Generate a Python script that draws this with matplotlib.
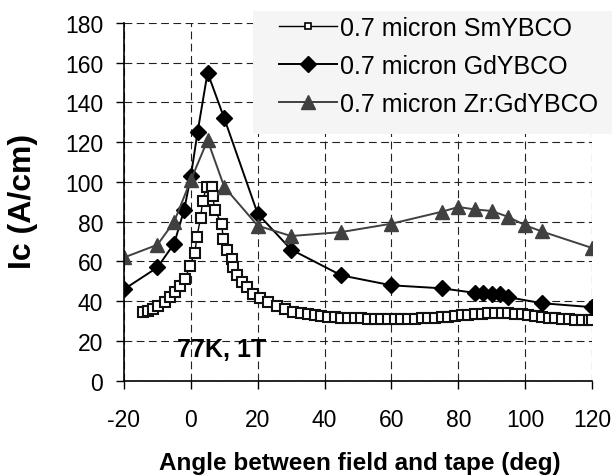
import numpy as np
import matplotlib
matplotlib.use('Agg')
import matplotlib.pyplot as plt
from matplotlib.patches import Rectangle
from matplotlib.lines import Line2D

plt.rcParams['font.family'] = ['Liberation Sans', 'DejaVu Sans']
plt.rcParams['axes.unicode_minus'] = False

# ---- data ----
# 0.7 micron SmYBCO (open squares)
sm_angle = [-14.2, -12.7, -11.2, -9.7, -7.7, -6.2, -4.7, -3.2, -1.7, -0.3,
            1.2, 1.8, 2.9, 3.5, 4.7, 6.2, 6.5, 7.2, 9.2, 9.7,
            10.7, 12.2, 12.7, 13.7, 15.2, 16.7, 18.7, 20.7, 23.2, 25.7,
            28.2, 30.7, 33, 35, 37, 39, 41, 43, 45, 47,
            49, 51, 53, 55, 57, 59, 61, 63, 65, 67,
            69, 71, 73, 75, 77, 79, 81, 83, 85, 87,
            89, 91, 93, 95, 97, 99, 101, 103, 105, 107,
            109, 111, 113, 115, 117, 119, 120]
sm_ic = [34.5, 35.3, 36.2, 37.5, 39.5, 42.0, 44.6, 47.6, 51.3, 57.7,
         64.4, 72.3, 81.9, 90.3, 97.5, 97.5, 93.0, 85.7, 79.0, 71.5,
         65.6, 61.4, 57.2, 53.0, 49.6, 47.1, 43.7, 41.6, 39.5, 37.8,
         36.2, 34.8, 34.0, 33.5, 33.0, 32.6, 32.3, 32.0, 31.8, 31.6,
         31.4, 31.3, 31.2, 31.0, 30.9, 30.8, 30.8, 30.9, 31.0, 31.2,
         31.4, 31.6, 31.8, 32.0, 32.3, 32.6, 32.9, 33.2, 33.5, 33.7,
         33.9, 34.0, 34.0, 33.9, 33.7, 33.4, 33.0, 32.6, 32.2, 31.8,
         31.4, 31.1, 30.8, 30.6, 30.5, 30.4, 30.4]

# 0.7 micron GdYBCO (filled diamonds)
gd_angle = [-20, -10, -5, -2, 0, 2, 5, 10, 20, 30, 45, 60, 75,
            85, 87.5, 90, 92.5, 95, 105, 120]
gd_ic = [46, 57, 69, 86, 103, 125, 155, 132, 84, 66, 53, 48, 46.5,
         44.2, 44.2, 43.4, 43.4, 42, 39, 37]

# 0.7 micron Zr:GdYBCO (filled triangles)
zr_angle = [-20, -10, -5, 0, 5, 10, 20, 30, 45, 60, 75, 80, 85, 90,
            95, 100, 105, 120]
zr_ic = [62, 68.4, 80, 101, 121, 97.5, 78, 72.8, 74.8, 79, 85, 87.4,
         86.2, 85.4, 82.4, 78.2, 75.1, 66.8]

labels = ['0.7 micron SmYBCO', '0.7 micron GdYBCO', '0.7 micron Zr:GdYBCO']
xticks = [-20, 0, 20, 40, 60, 80, 100, 120]
yticks = [0, 20, 40, 60, 80, 100, 120, 140, 160, 180]

# ---- figure ----
W, H = 616, 477
fig = plt.figure(figsize=(W / 100, H / 100), dpi=100)
ax = fig.add_axes([124 / W, 1 - 381.7 / H, 468 / W, 357.7 / H])

ax.plot(sm_angle, sm_ic, '-', color='black', lw=1.0, marker='s', ms=7,
        mfc='white', mec='#111111', mew=1.5, zorder=3)
ax.plot(gd_angle, gd_ic, '-', color='black', lw=1.4, marker='D', ms=8,
        mfc='black', mec='black', zorder=4)
ax.plot(zr_angle, zr_ic, '-', color='#404040', lw=1.4, marker='^', ms=10,
        mfc='#404040', mec='#404040', zorder=5)

ax.set_xlim(-20, 120)
ax.set_ylim(0, 180)
ax.set_xticks(xticks)
ax.set_yticks(yticks)
ax.tick_params(direction='out', length=6, width=1, labelsize=16.5,
               colors='black')
ax.tick_params(axis='x', pad=14)
ax.tick_params(axis='y', pad=9)

ax.grid(True, color='#222222', lw=0.8, linestyle=(0, (7, 4)))
ax.set_axisbelow(True)
for s in ['top', 'right']:
    ax.spines[s].set_visible(False)
for s in ['left', 'bottom']:
    ax.spines[s].set_linewidth(1.2)
    ax.spines[s].set_zorder(6)

ax.text(9.3, 16, '77K, 1T', fontsize=18, fontweight='bold',
        ha='center', va='center')

fig.text(23 / W, 1 - 201 / H, 'Ic (A/cm)', rotation=90, fontsize=23,
         fontweight='bold', ha='center', va='center')
fig.text(360 / W, 1 - 464 / H, 'Angle between field and tape (deg)',
         fontsize=17.5, fontweight='bold', ha='center', va='center')

# legend on a light grey panel
fig.patches.append(Rectangle((253 / W, 1 - 135 / H), (612 - 253) / W,
                             (135 - 12) / H, transform=fig.transFigure,
                             facecolor='#f5f5f5', edgecolor='none',
                             zorder=2))
handles = [
    Line2D([], [], color='black', lw=1.0, marker='s', ms=5,
           mfc='white', mec='black', mew=1.2),
    Line2D([], [], color='black', lw=1.4, marker='D', ms=8,
           mfc='black', mec='black'),
    Line2D([], [], color='#404040', lw=1.4, marker='^', ms=10,
           mfc='#404040', mec='#404040'),
]
fig.legend(handles, labels, loc='upper left',
           bbox_to_anchor=(279 / W, 1 - 17 / H), frameon=False,
           fontsize=18, handlelength=2.3, handletextpad=0.12,
           labelspacing=0.55, borderpad=0, borderaxespad=0, numpoints=1)

fig.savefig('out.png', dpi=100)
